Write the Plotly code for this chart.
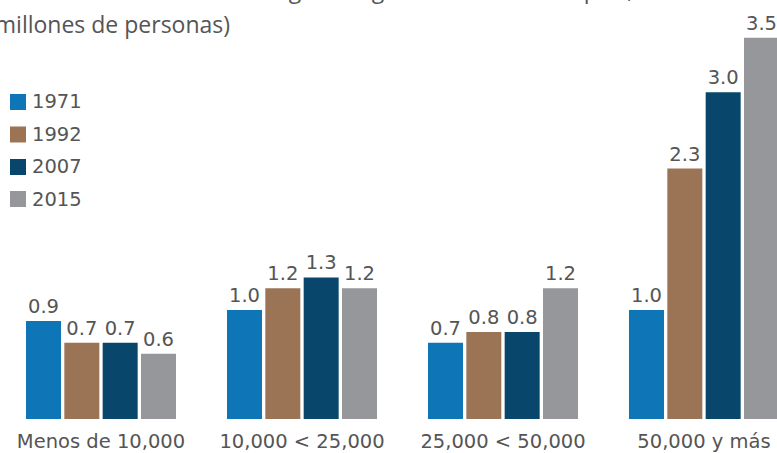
import plotly.graph_objects as go

# Población por tamaño de localidad (millones de personas)
categories = ["Menos de 10,000", "10,000 < 25,000", "25,000 < 50,000", "50,000 y más"]
years = ["1971", "1992", "2007", "2015"]
values_1971 = [0.9, 1.0, 0.7, 1.0]
values_1992 = [0.7, 1.2, 0.8, 2.3]
values_2007 = [0.7, 1.3, 0.8, 3.0]
values_2015 = [0.6, 1.2, 1.2, 3.5]
series = [values_1971, values_1992, values_2007, values_2015]
colors = ["#0e75b6", "#9b7455", "#08476b", "#96979b"]

title_line1 = "Población en localidades según rango de tamaño en el país, 1971-2015"
title_line2 = "(millones de personas)"

W, H = 777, 453
MT, MB = 0, 34
PH = H - MT - MB

LABEL_FONT = "DejaVu Sans, Verdana, sans-serif"
TEXT_COLOR = "#555555"

fig = go.Figure()
for year, vals, col in zip(years, series, colors):
    fig.add_trace(go.Bar(
        x=categories, y=vals, name=year,
        marker=dict(color=col, line=dict(width=0)),
        texttemplate="%{y:.1f}", textposition="outside",
        textfont=dict(family=LABEL_FONT, size=19.5, color=TEXT_COLOR),
        cliponaxis=False, showlegend=False,
    ))

def py(p):
    """Pixel row (from top of figure) to paper y."""
    return 1 - (p - MT) / PH

def px(p):
    return p / W

shapes = []
annotations = []
# Legend drawn as swatches + labels
legend_rows = [102, 134.5, 167, 199]
for year, col, cy in zip(years, colors, legend_rows):
    shapes.append(dict(type="rect", xref="paper", yref="paper",
                       x0=px(10), x1=px(26), y0=py(cy + 8), y1=py(cy - 8),
                       fillcolor=col, line=dict(width=0)))
    annotations.append(dict(text=year, xref="paper", yref="paper",
                            x=px(30), y=py(cy), xanchor="left", yanchor="middle",
                            showarrow=False,
                            font=dict(family=LABEL_FONT, size=19.5, color=TEXT_COLOR)))

# Title lines (partly outside the visible area)
annotations.append(dict(text=title_line1, xref="paper", yref="paper",
                        x=px(-7), y=py(7), xanchor="left", yanchor="bottom",
                        showarrow=False,
                        font=dict(family="Open Sans, sans-serif", size=23, color=TEXT_COLOR)))
annotations.append(dict(text=title_line2, xref="paper", yref="paper",
                        x=px(232), y=py(24), xanchor="right", yanchor="middle",
                        showarrow=False,
                        font=dict(family="Open Sans, sans-serif", size=23, color=TEXT_COLOR)))

fig.update_layout(
    width=W, height=H,
    margin=dict(l=0, r=0, t=MT, b=MB, pad=0),
    paper_bgcolor="white", plot_bgcolor="white",
    barmode="group", bargap=0.237, bargroupgap=0.087,
    showlegend=False,
    shapes=shapes, annotations=annotations,
    xaxis=dict(type="category", categoryorder="array", categoryarray=categories,
               range=[-0.5025, 3.3632], showgrid=False, showline=False, zeroline=False,
               ticks="", ticklabelstandoff=8,
               tickfont=dict(family=LABEL_FONT, size=19.5, color=TEXT_COLOR)),
    yaxis=dict(range=[0, PH / 108.9], visible=False, showgrid=False, zeroline=False),
)

fig.write_html("out.html")
